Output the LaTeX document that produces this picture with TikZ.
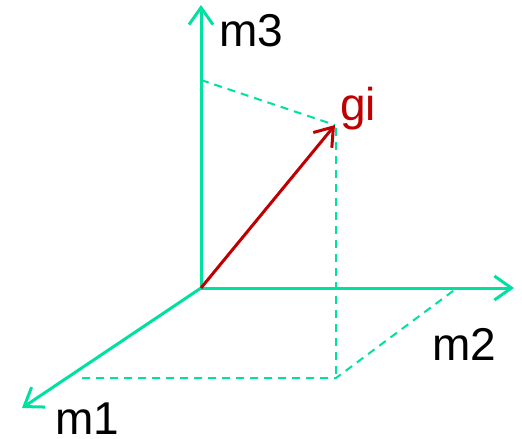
\documentclass[tikz,border=0pt]{standalone}
\usepackage{fontspec}
\setmainfont{Liberation Sans}
\usetikzlibrary{arrows.meta}
\definecolor{axisgreen}{RGB}{0,224,160}
\definecolor{vecred}{RGB}{192,0,0}
\tikzset{
  axis/.style={draw=axisgreen, line width=3pt, -{Straight Barb[length=17pt,width=24pt,line width=3pt]}},
  vecarrow/.style={draw=vecred, line width=3pt, -{Straight Barb[length=17pt,width=24pt,line width=3pt]}},
  guide/.style={draw=axisgreen, line width=2pt, dash pattern=on 8pt off 6pt},
  lbl/.style={inner sep=0pt, anchor=base west, font=\fontsize{46}{52}\selectfont}
}
\begin{document}
\begin{tikzpicture}[x=1pt,y=-1pt]
\useasboundingbox (0,0) rectangle (522,439);
\coordinate (O) at (201,288);
\coordinate (m3tip) at (201,5);
\coordinate (m2tip) at (514,288);
\coordinate (m1tip) at (22,408);
\coordinate (G) at (335,125);
\coordinate (A) at (201,80);
\coordinate (P) at (336,378);
\coordinate (B) at (82,378);
\coordinate (C) at (457,288);
\coordinate (Gv) at (336,128);
\draw[guide] (A) -- (G);
\draw[guide] (Gv) -- (P);
\draw[guide] (B) -- (P) -- (C);
\draw[axis] (O) -- (m3tip);
\draw[axis] (O) -- (m2tip);
\draw[axis] (O) -- (m1tip);
\draw[vecarrow] (O) -- (G);
\node[lbl] (l3) at (219,46) {m3};
\node[lbl] (l2) at (432,360) {m2};
\node[lbl] (l1) at (55,434) {m1};
\node[lbl, text=vecred] (lg) at (340,120) {gi};
\end{tikzpicture}
\end{document}
